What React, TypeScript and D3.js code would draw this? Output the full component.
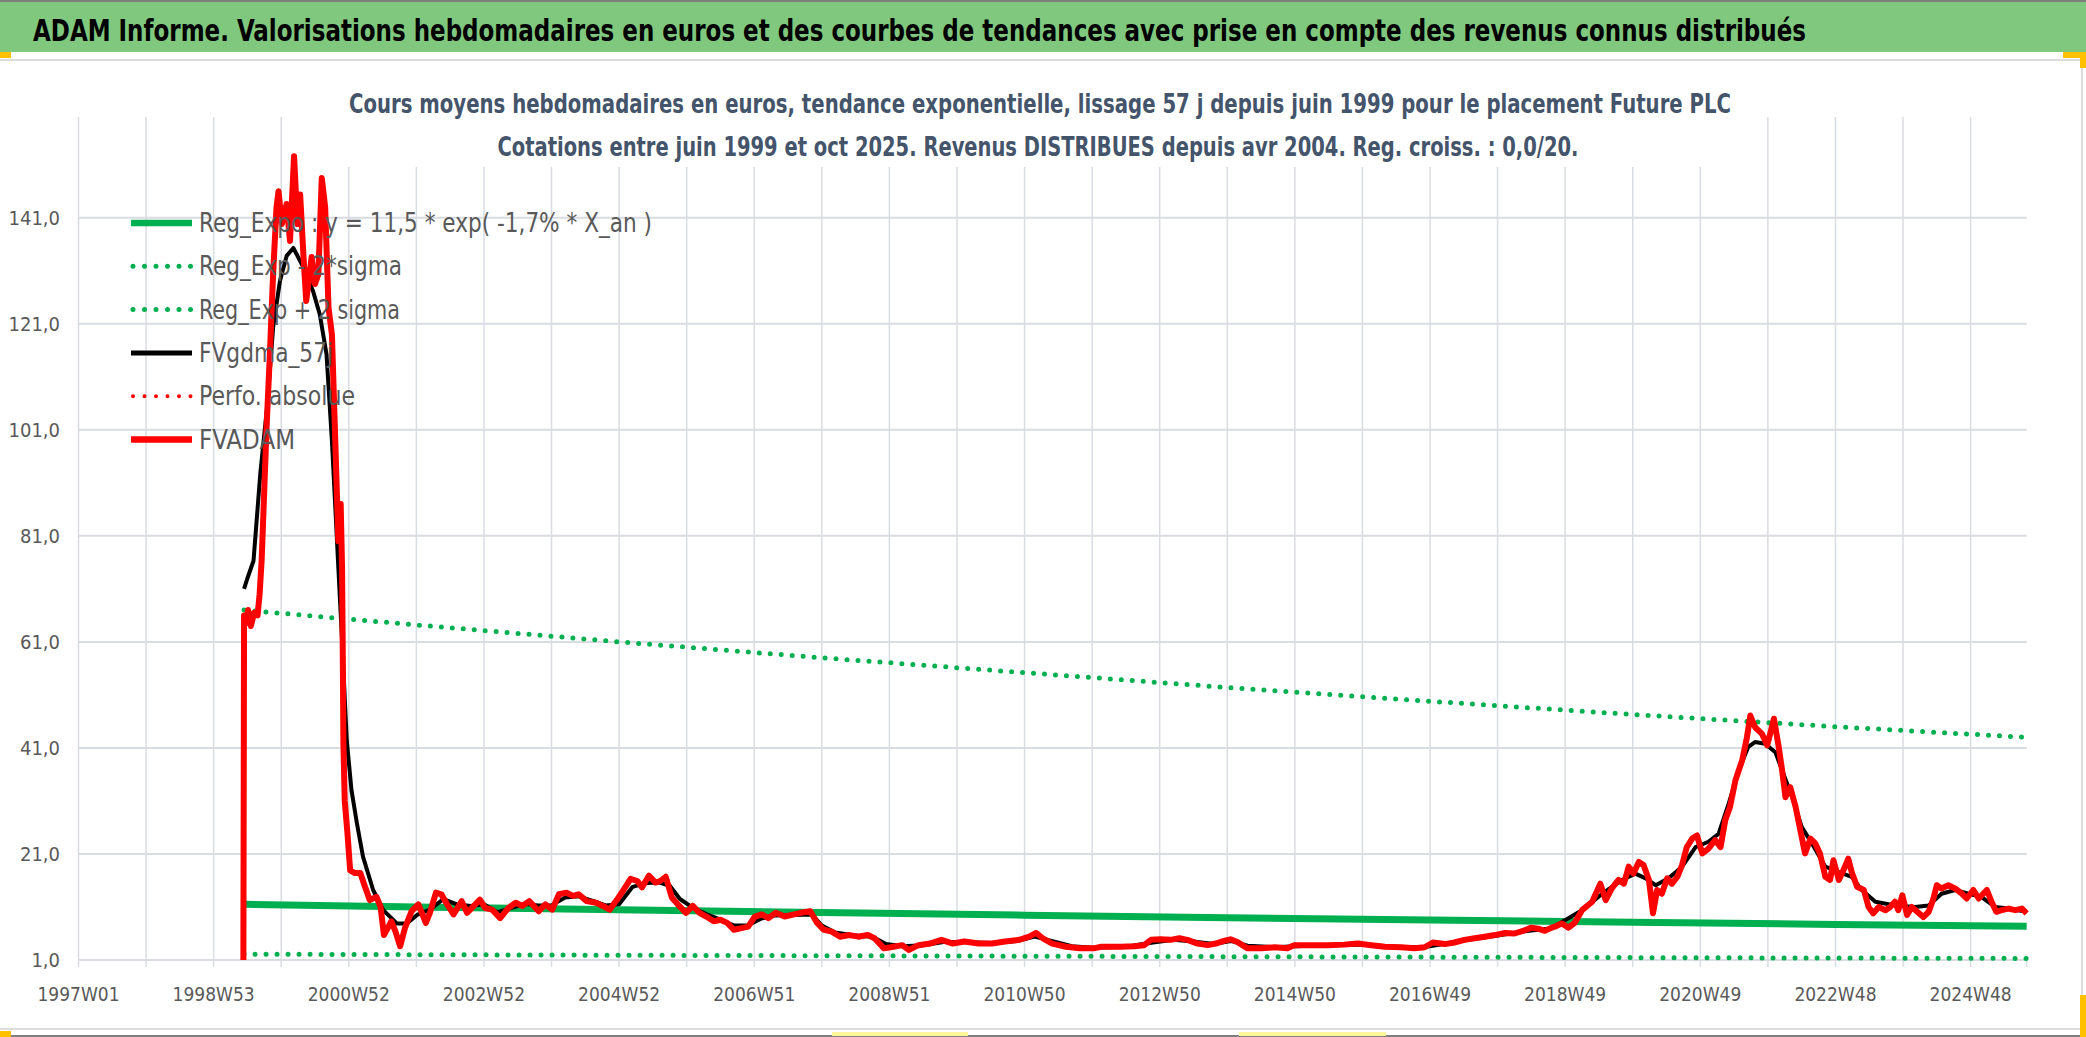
import React from "react";
import * as d3 from "d3";

// ---- data (decimal year, value in euros) ----
const xLabels = [
  "1997W01", "1998W53", "2000W52", "2002W52", "2004W52", "2006W51", "2008W51",
  "2010W50", "2012W50", "2014W50", "2016W49", "2018W49", "2020W49", "2022W48", "2024W48",
];
const yTicks = [1, 21, 41, 61, 81, 101, 121, 141];

const regExpo: [number, number][] = [
  [1999.45, 11.5], [2002, 11.0], [2005, 10.46], [2008, 9.95], [2011, 9.46],
  [2014, 8.98], [2017, 8.54], [2020, 8.11], [2023, 7.71], [2025.83, 7.35],
];
const regLower: [number, number][] = [
  [1999.45, 2.1], [2005, 1.9], [2010, 1.75], [2015, 1.6], [2020, 1.45], [2025.83, 1.3],
];
const regUpper: [number, number][] = [
  [1999.45, 67.0], [2002, 64.2], [2005, 61.0], [2008, 58.0], [2011, 55.2],
  [2014, 52.4], [2017, 49.8], [2020, 47.3], [2023, 45.0], [2025.83, 43.0],
];

const fvgdma: [number, number][] = [
  [1999.45, 71], [1999.5, 73], [1999.59, 76.3], [1999.69, 92.7], [1999.79, 105.2],
  [1999.88, 120.3], [1999.98, 129], [2000.08, 133.8], [2000.18, 135.3], [2000.33, 131.6],
  [2000.47, 127.2], [2000.57, 122.8], [2000.67, 115.3], [2000.75, 98.9], [2000.8, 86.4],
  [2000.84, 76.3], [2000.9, 61.3], [2000.97, 42.4], [2001.04, 33], [2001.12, 26.8],
  [2001.21, 20.5], [2001.36, 14.2], [2001.51, 10.4], [2001.71, 7.9], [2001.86, 7.9],
  [2002.01, 9.5], [2002.2, 10.5], [2002.4, 12.5], [2002.6, 11.5], [2002.8, 11.2],
  [2003.0, 11.5], [2003.2, 10.0], [2003.4, 10.8], [2003.6, 11.6], [2003.8, 11.3],
  [2004.0, 11.3], [2004.2, 12.8], [2004.4, 13.0], [2004.6, 12.2], [2004.8, 11.3],
  [2005.0, 11.5], [2005.2, 14.8], [2005.4, 15.5], [2005.6, 15.6], [2005.75, 15.0],
  [2005.9, 12.5], [2006.1, 10.8], [2006.3, 9.6], [2006.5, 8.6], [2006.7, 7.5],
  [2006.9, 7.5], [2007.1, 8.8], [2007.3, 9.4], [2007.6, 9.5], [2007.85, 9.6],
  [2008.0, 7.5], [2008.2, 6.2], [2008.5, 5.6], [2008.75, 5.4], [2008.95, 4.0],
  [2009.2, 3.6], [2009.5, 3.8], [2009.8, 4.4], [2010.1, 4.4], [2010.5, 4.2],
  [2010.9, 4.6], [2011.15, 5.4], [2011.4, 4.6], [2011.7, 3.6], [2012.0, 3.3],
  [2012.5, 3.5], [2012.9, 4.3], [2013.2, 4.8], [2013.5, 4.5], [2013.8, 4.0],
  [2014.05, 4.6], [2014.3, 3.7], [2014.7, 3.4], [2015.0, 3.6], [2015.5, 3.8],
  [2016.0, 3.9], [2016.5, 3.5], [2016.9, 3.4], [2017.2, 4.0], [2017.6, 4.9],
  [2018.0, 5.6], [2018.4, 6.4], [2018.8, 7.0], [2018.96, 8.2], [2019.25, 10.4],
  [2019.55, 13.5], [2019.84, 16.1], [2020.04, 17.3], [2020.19, 16.4], [2020.34, 15.1],
  [2020.53, 16.4], [2020.73, 18.6], [2020.93, 22.3], [2021.12, 23.3], [2021.27, 24.8],
  [2021.42, 30.5], [2021.57, 36.8], [2021.71, 41.2], [2021.81, 42.1], [2021.96, 41.8],
  [2022.11, 40.2], [2022.21, 36.8], [2022.36, 31.7], [2022.5, 26.1], [2022.65, 23.0],
  [2022.85, 18.6], [2023.05, 17.6], [2023.24, 16.7], [2023.39, 14.2], [2023.59, 12.0],
  [2023.88, 11.3], [2024.18, 11.0], [2024.38, 11.3], [2024.57, 13.5], [2024.77, 14.2],
  [2024.97, 13.5], [2025.16, 12.9], [2025.36, 11.0], [2025.56, 10.7], [2025.83, 10.1],
];

const fvadam: [number, number][] = [
  [1999.44, 1.0], [1999.45, 66.0], [1999.48, 64.5], [1999.51, 67.0], [1999.55, 64.0],
  [1999.6, 66.5], [1999.65, 66.0], [1999.68, 70.0], [1999.71, 76.3], [1999.75, 90.0],
  [1999.785, 102.0], [1999.83, 114.6], [1999.88, 130.4], [1999.93, 142.9], [1999.96, 146.0],
  [2000.01, 139.8], [2000.08, 143.6], [2000.13, 136.6], [2000.19, 152.6], [2000.24, 139.8],
  [2000.28, 145.4], [2000.33, 133.6], [2000.37, 125.3], [2000.42, 130.4], [2000.45, 133.6],
  [2000.5, 128.5], [2000.55, 130.4], [2000.6, 148.5], [2000.65, 143.0], [2000.7, 124.0],
  [2000.75, 119.0], [2000.8, 98.9], [2000.845, 80.0], [2000.88, 87.0], [2000.9, 75.0],
  [2000.91, 60.0], [2000.92, 42.0], [2000.94, 31.0], [2000.98, 24.9], [2001.02, 17.9],
  [2001.09, 17.4], [2001.17, 17.4], [2001.24, 14.8], [2001.31, 12.3], [2001.41, 12.9],
  [2001.47, 11.0], [2001.52, 5.7], [2001.63, 8.3], [2001.69, 6.4], [2001.76, 3.6],
  [2001.83, 7.0], [2001.93, 10.2], [2002.03, 11.5], [2002.14, 8.0], [2002.2, 9.9],
  [2002.29, 13.7], [2002.37, 13.4], [2002.44, 11.8], [2002.55, 9.6], [2002.67, 12.1],
  [2002.75, 9.9], [2002.85, 11.2], [2002.94, 12.4], [2003.02, 10.8], [2003.12, 10.5],
  [2003.24, 8.9], [2003.36, 10.8], [2003.47, 11.8], [2003.57, 11.2], [2003.67, 12.1],
  [2003.81, 10.2], [2003.91, 11.5], [2004.01, 10.5], [2004.11, 13.4], [2004.22, 13.7],
  [2004.32, 13.1], [2004.4, 13.4], [2004.52, 12.1], [2004.66, 11.8], [2004.76, 11.2],
  [2004.86, 10.5], [2004.97, 12.4], [2005.07, 14.3], [2005.17, 16.3], [2005.27, 15.9],
  [2005.34, 14.7], [2005.44, 16.9], [2005.54, 15.6], [2005.61, 15.9], [2005.69, 16.7],
  [2005.78, 12.8], [2005.89, 11.2], [2005.99, 9.9], [2006.09, 11.2], [2006.19, 9.9],
  [2006.29, 9.2], [2006.4, 8.3], [2006.5, 8.6], [2006.6, 8.0], [2006.7, 6.7],
  [2006.81, 7.0], [2006.91, 7.3], [2007.01, 9.2], [2007.11, 9.6], [2007.21, 8.9],
  [2007.32, 9.9], [2007.45, 9.2], [2007.59, 9.6], [2007.69, 9.9], [2007.83, 10.2],
  [2007.93, 8.0], [2008.03, 6.7], [2008.14, 6.4], [2008.27, 5.4], [2008.41, 5.7],
  [2008.54, 5.4], [2008.68, 5.7], [2008.78, 5.1], [2008.92, 3.2], [2009.06, 3.5],
  [2009.19, 3.8], [2009.29, 2.9], [2009.43, 3.8], [2009.6, 4.1], [2009.77, 4.8],
  [2009.94, 4.1], [2010.11, 4.5], [2010.32, 4.1], [2010.52, 4.1], [2010.71, 4.5],
  [2010.92, 4.8], [2011.07, 5.4], [2011.17, 6.1], [2011.27, 5.1], [2011.41, 4.1],
  [2011.61, 3.5], [2011.82, 3.2], [2012.02, 3.2], [2012.14, 3.5], [2012.42, 3.5],
  [2012.62, 3.6], [2012.77, 3.8], [2012.87, 4.8], [2013.01, 4.9], [2013.16, 4.8],
  [2013.29, 5.1], [2013.41, 4.8], [2013.56, 4.1], [2013.71, 3.8], [2013.83, 4.1],
  [2013.95, 4.6], [2014.05, 4.9], [2014.15, 4.4], [2014.3, 3.2], [2014.5, 3.2],
  [2014.7, 3.4], [2014.89, 3.2], [2014.99, 3.8], [2015.19, 3.8], [2015.49, 3.8],
  [2015.73, 3.9], [2015.93, 4.1], [2016.13, 3.8], [2016.33, 3.5], [2016.57, 3.4],
  [2016.77, 3.2], [2016.92, 3.4], [2017.04, 4.3], [2017.22, 4.0], [2017.36, 4.3],
  [2017.51, 4.8], [2017.66, 5.1], [2017.81, 5.4], [2017.96, 5.7], [2018.11, 6.1],
  [2018.25, 6.0], [2018.4, 6.6], [2018.5, 7.1], [2018.6, 6.9], [2018.7, 6.5],
  [2018.8, 7.1], [2018.87, 7.4], [2018.95, 7.9], [2019.05, 7.1], [2019.14, 8.0],
  [2019.25, 10.4], [2019.4, 12.0], [2019.52, 15.4], [2019.6, 12.3], [2019.69, 14.5],
  [2019.79, 16.1], [2019.87, 15.4], [2019.94, 18.6], [2020.01, 17.3], [2020.09, 19.5],
  [2020.16, 18.9], [2020.24, 16.1], [2020.3, 9.8], [2020.36, 14.2], [2020.43, 13.5],
  [2020.51, 16.4], [2020.58, 15.4], [2020.66, 16.7], [2020.73, 18.9], [2020.8, 22.3],
  [2020.88, 23.9], [2020.95, 24.5], [2021.03, 21.1], [2021.12, 22.0], [2021.22, 23.6],
  [2021.3, 22.3], [2021.37, 27.4], [2021.44, 29.9], [2021.52, 34.9], [2021.62, 38.7],
  [2021.69, 43.0], [2021.74, 47.1], [2021.81, 44.9], [2021.91, 43.7], [2021.99, 41.5],
  [2022.09, 46.5], [2022.16, 41.2], [2022.21, 36.8], [2022.26, 31.7], [2022.33, 33.6],
  [2022.41, 29.9], [2022.48, 25.5], [2022.55, 21.1], [2022.63, 23.9], [2022.7, 23.0],
  [2022.77, 21.1], [2022.85, 16.7], [2022.92, 16.1], [2022.97, 19.8], [2023.05, 16.1],
  [2023.12, 18.0], [2023.19, 20.1], [2023.24, 17.6], [2023.32, 14.8], [2023.42, 14.2],
  [2023.49, 11.0], [2023.56, 9.8], [2023.64, 11.0], [2023.74, 10.4], [2023.81, 11.0],
  [2023.88, 12.0], [2023.93, 10.4], [2023.99, 13.2], [2024.06, 9.5], [2024.13, 11.0],
  [2024.21, 10.1], [2024.3, 9.1], [2024.38, 10.1], [2024.45, 12.6], [2024.5, 15.1],
  [2024.57, 14.5], [2024.67, 15.1], [2024.77, 14.5], [2024.87, 13.5], [2024.94, 12.6],
  [2025.04, 14.2], [2025.12, 12.6], [2025.24, 14.2], [2025.31, 12.0], [2025.38, 10.1],
  [2025.46, 10.4], [2025.56, 10.7], [2025.66, 10.4], [2025.76, 10.7], [2025.83, 9.8],
];

const legendItems = [
  { label: "Reg_Expo : y = 11,5 * exp( -1,7% *  X_an )", color: "#00B050", dotted: false, width: 6.5, len: 453 },
  { label: "Reg_Exp - 2*sigma", color: "#00B050", dotted: true, width: 5, len: 203 },
  { label: "Reg_Exp + 2 sigma", color: "#00B050", dotted: true, width: 5, len: 201 },
  { label: "FVgdma_57j", color: "#000000", dotted: false, width: 5, len: 134 },
  { label: "Perfo. absolue", color: "#FF0000", dotted: true, width: 4, len: 156 },
  { label: "FVADAM", color: "#FF0000", dotted: false, width: 6.5, len: 96 },
];

const W = 2086;
const H = 1037;
const plot = { left: 78.5, right: 2026.7, top: 117, bottom: 960 };
const font = "'DejaVu Sans Condensed', 'DejaVu Sans', sans-serif";
const axisColor = "#595959";
const gridColor = "#D9DCE1";
const titleColor = "#44546A";

export default function App() {
  const x = d3.scaleLinear().domain([1997, 2025.83]).range([plot.left, plot.right]);
  const y = d3.scaleLinear().domain([1, 160]).range([plot.bottom, plot.top]);
  const line = d3
    .line<[number, number]>()
    .x((d) => x(d[0]))
    .y((d) => y(d[1]));

  const years = d3.range(1997, 2026);
  const fmt = (v: number) => v.toFixed(1).replace(".", ",");
  const dots = { strokeDasharray: "0 11", strokeLinecap: "round" as const };

  return (
    <svg
      width={W}
      height={H}
      style={{ position: "absolute", left: 0, top: 0, background: "#fff" }}
      fontFamily={font}
    >
      {/* banner */}
      <rect x={0} y={0} width={W} height={52} fill="#7FC87E" />
      <line x1={0} x2={W} y1={1} y2={1} stroke="#7f7f7f" strokeWidth={2} />
      <text
        transform="translate(33,41) scale(1,1.2)"
        fontSize={25}
        fontWeight="bold"
        fill="#000"
        textLength={1773}
        lengthAdjust="spacingAndGlyphs"
      >
        ADAM Informe. Valorisations hebdomadaires en euros et des courbes de tendances avec prise en compte des revenus connus distribués
      </text>
      <line x1={0} x2={W} y1={60} y2={60} stroke="#DCDCDC" strokeWidth={2} />
      <line x1={0} x2={W} y1={1029} y2={1029} stroke="#DCDCDC" strokeWidth={2} />
      <line x1={0} x2={W} y1={1036} y2={1036} stroke="#7f7f7f" strokeWidth={2} />
      <line x1={2082} x2={2082} y1={60} y2={1029} stroke="#DCDCDC" strokeWidth={2} />
      <rect x={0} y={52} width={11} height={6} fill="#FFC000" />
      <rect x={2063} y={52} width={23} height={6} fill="#FFC000" />
      <rect x={2080} y={52} width={6} height={16} fill="#FFC000" />
      <rect x={2080} y={995} width={6} height={42} fill="#FFC000" />
      <rect x={0} y={1031} width={11} height={6} fill="#FFC000" />
      <rect x={832} y={1032} width={136} height={4} fill="#FFF59D" />
      <rect x={1239} y={1032} width={147} height={4} fill="#FFF59D" />

      {/* grid */}
      <g>
        {years.map((yr) => (
          <line key={yr} x1={x(yr)} x2={x(yr)} y1={plot.top} y2={plot.bottom + 7} stroke={gridColor} strokeWidth={1.5} />
        ))}
        <line x1={plot.right} x2={plot.right} y1={plot.bottom} y2={plot.bottom + 7} stroke={gridColor} strokeWidth={1.5} />
        {yTicks.map((t) => (
          <line key={t} x1={plot.left} x2={plot.right} y1={y(t)} y2={y(t)} stroke={gridColor} strokeWidth={2} />
        ))}
      </g>

      {/* chart title box hides the gridlines behind it */}
      <rect x={300} y={61} width={1435} height={106} fill="#fff" />
      <text x={1040} y={113} textAnchor="middle" fontSize={26} fontWeight="bold" fill={titleColor} textLength={1382} lengthAdjust="spacingAndGlyphs">
        Cours moyens hebdomadaires en euros, tendance exponentielle, lissage 57 j depuis juin 1999 pour le placement Future PLC
      </text>
      <text x={1038} y={156} textAnchor="middle" fontSize={26} fontWeight="bold" fill={titleColor} textLength={1081} lengthAdjust="spacingAndGlyphs">
        Cotations entre juin 1999 et oct 2025. Revenus DISTRIBUES depuis avr 2004. Reg. croiss. : 0,0/20.
      </text>

      {/* axes labels */}
      <g fill={axisColor}>
        {yTicks.map((t) => (
          <text key={t} x={60} y={y(t)} textAnchor="end" dominantBaseline="central" fontSize={20}>
            {fmt(t)}
          </text>
        ))}
        {xLabels.map((l, i) => (
          <text key={l} x={x(1997 + 2 * i)} y={1001} textAnchor="middle" fontSize={19}>
            {l}
          </text>
        ))}
      </g>

      {/* series */}
      <g fill="none" strokeLinejoin="round">
        <path d={line(regLower) || ""} stroke="#00B050" strokeWidth={5} {...dots} />
        <path d={line(regUpper) || ""} stroke="#00B050" strokeWidth={5} {...dots} />
        <path d={line(regExpo) || ""} stroke="#00B050" strokeWidth={7} />
        <path d={line(fvgdma) || ""} stroke="#000" strokeWidth={4} />
        <path d={line(fvadam) || ""} stroke="#FF0000" strokeWidth={6} />
      </g>

      {/* legend */}
      <g>
        {legendItems.map((it, i) => {
          const cy = 223 + i * 43.3;
          return (
            <g key={it.label}>
              <line
                x1={it.dotted ? 133 : 131}
                x2={192}
                y1={cy}
                y2={cy}
                stroke={it.color}
                strokeWidth={it.width}
                strokeLinecap={it.dotted ? "round" : "butt"}
                strokeDasharray={it.dotted ? "0 11.5" : undefined}
              />
              <text x={199} y={cy} dominantBaseline="central" fontSize={26} fill={axisColor} textLength={it.len} lengthAdjust="spacingAndGlyphs">
                {it.label}
              </text>
            </g>
          );
        })}
      </g>
    </svg>
  );
}
